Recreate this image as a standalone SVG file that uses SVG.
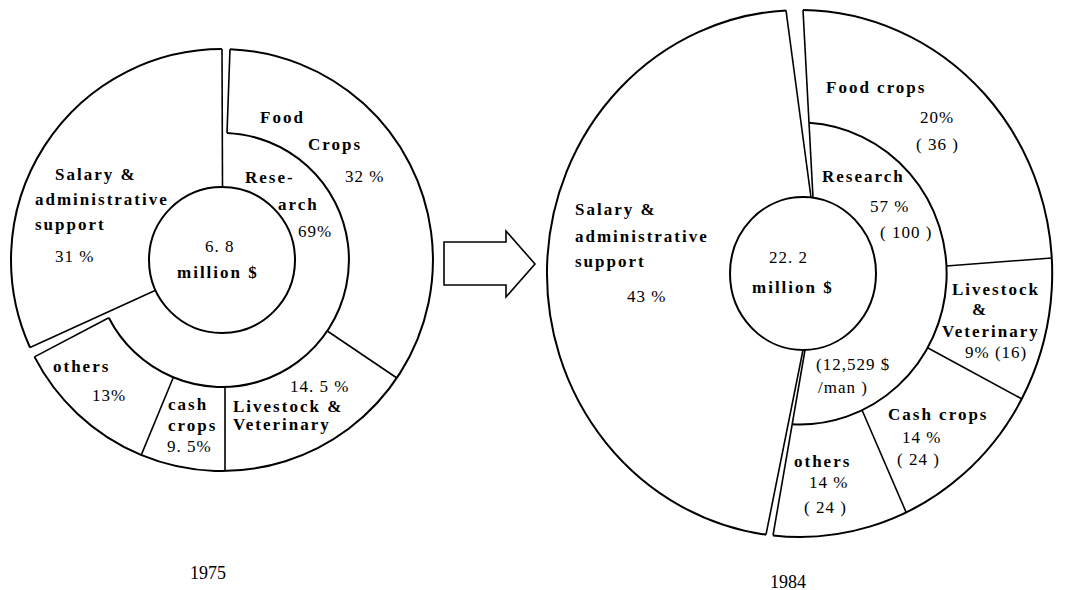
<svg xmlns="http://www.w3.org/2000/svg" width="1083" height="590" viewBox="0 0 1083 590">
  <style>
    .ring { fill: none; stroke: #000; stroke-width: 2; }
    .cut { fill: none; stroke: #000; stroke-width: 1.6; }
    .w { font-family: "Liberation Serif", serif; font-weight: bold; font-size: 17px; letter-spacing: 2px; fill: #000; }
    .n { font-family: "Liberation Serif", serif; font-size: 17px; letter-spacing: 1px; fill: #000; }
    .yr { font-family: "Liberation Serif", serif; font-size: 18px; fill: #000; }
  </style>
  <rect width="1083" height="590" fill="#fff"/>

  <!-- 1975 budget: centre (222,260) -->
  <g id="chart-1975">
    <g id="c75-outline">
      <path class="ring" d="M230,49.15 A211,211 0 1 1 34.5,356.9"/>
      <path class="ring" d="M30,347.5 A211,211 0 0 1 222,49"/>
      <path class="ring" d="M227,133.1 A127,127 0 1 1 108.8,317.7"/>
      <path class="cut" d="M222,49 L222.5,187"/>
      <path class="cut" d="M230,49.15 L227,133.1"/>
      <path class="cut" d="M108.8,317.7 L34.5,356.9"/>
      <path class="cut" d="M155.6,290.3 L30,347.5"/>
      <path class="cut" d="M327.3,331 L396.9,378"/>
      <path class="cut" d="M225,386.9 L225,471"/>
      <path class="cut" d="M173.4,377.3 L141.3,454.9"/>
    </g>
    <g id="c75-total">
      <circle class="ring" cx="222" cy="260" r="73"/>
      <text class="n" x="205" y="252">6. 8</text>
      <text class="w" x="177" y="278">million $</text>
    </g>
    <g id="c75-salary">
      <text class="w" x="55" y="180">Salary &amp;</text>
      <text class="w" x="35" y="205">administrative</text>
      <text class="w" x="35" y="230">support</text>
      <text class="n" x="55" y="262">31 %</text>
    </g>
    <g id="c75-research">
      <text class="w" x="245" y="183">Rese-</text>
      <text class="w" x="278" y="210">arch</text>
      <text class="n" x="298" y="237">69%</text>
    </g>
    <g id="c75-food">
      <text class="w" x="260" y="123">Food</text>
      <text class="w" x="308" y="150">Crops</text>
      <text class="n" x="345" y="182">32 %</text>
    </g>
    <g id="c75-livestock">
      <text class="n" x="290" y="392">14. 5 %</text>
      <text class="w" x="233" y="412">Livestock &amp;</text>
      <text class="w" x="233" y="430">Veterinary</text>
    </g>
    <g id="c75-cash">
      <text class="w" x="168" y="410">cash</text>
      <text class="w" x="168" y="431">crops</text>
      <text class="n" x="167" y="452">9. 5%</text>
    </g>
    <g id="c75-others">
      <text class="w" x="53" y="372">others</text>
      <text class="n" x="92" y="401">13%</text>
    </g>
    <text class="yr" x="190" y="579">1975</text>
  </g>

  <!-- change from 1975 to 1984 -->
  <g id="connectors">
    <polygon class="cut" points="444,242 506,242 506,231 535,264 506,297 506,285 444,285"/>
  </g>

  <!-- 1984 budget: outer ring centre (799.5,273.5) -->
  <g id="chart-1984">
    <g id="c84-outline">
      <path class="ring" d="M803,10 A252.5,263.5 0 1 1 773,535.5"/>
      <path class="ring" d="M766,534.7 A252.5,263.5 0 0 1 786,10.4"/>
      <path class="ring" d="M809,122.8 A147,151 0 0 1 792.2,424.3"/>
      <path class="cut" d="M786,10.4 L811,197.5"/>
      <path class="cut" d="M803,10 L813,197.7"/>
      <path class="cut" d="M805,350 L773,535.5"/>
      <path class="cut" d="M803,350 L766,534.7"/>
      <path class="cut" d="M946.3,266 L1051.6,258"/>
      <path class="cut" d="M928,348 L1022,399"/>
      <path class="cut" d="M862,410 L906,512"/>
    </g>
    <g id="c84-total">
      <ellipse class="ring" cx="803" cy="273.5" rx="73" ry="76.5"/>
      <text class="n" x="769" y="263">22. 2</text>
      <text class="w" x="752" y="293">million  $</text>
    </g>
    <g id="c84-salary">
      <text class="w" x="575" y="215">Salary &amp;</text>
      <text class="w" x="575" y="242">administrative</text>
      <text class="w" x="575" y="267">support</text>
      <text class="n" x="627" y="302">43 %</text>
    </g>
    <g id="c84-research">
      <text class="w" x="822" y="182">Research</text>
      <text class="n" x="870" y="212">57 %</text>
      <text class="n" x="880" y="238">( 100 )</text>
      <text class="n" x="816" y="370">(12,529 $</text>
      <text class="n" x="818" y="393">/man )</text>
    </g>
    <g id="c84-food">
      <text class="w" x="826" y="93">Food crops</text>
      <text class="n" x="920" y="123">20%</text>
      <text class="n" x="916" y="150">( 36 )</text>
    </g>
    <g id="c84-livestock">
      <text class="w" x="952" y="295">Livestock</text>
      <text class="w" x="972" y="315">&amp;</text>
      <text class="w" x="942" y="337">Veterinary</text>
      <text class="n" x="965" y="358">9% (16)</text>
    </g>
    <g id="c84-cash">
      <text class="w" x="888" y="420">Cash crops</text>
      <text class="n" x="902" y="443">14 %</text>
      <text class="n" x="897" y="465">( 24 )</text>
    </g>
    <g id="c84-others">
      <text class="w" x="794" y="467">others</text>
      <text class="n" x="809" y="488">14 %</text>
      <text class="n" x="804" y="513">( 24 )</text>
    </g>
    <text class="yr" x="770" y="588">1984</text>
  </g>
</svg>
